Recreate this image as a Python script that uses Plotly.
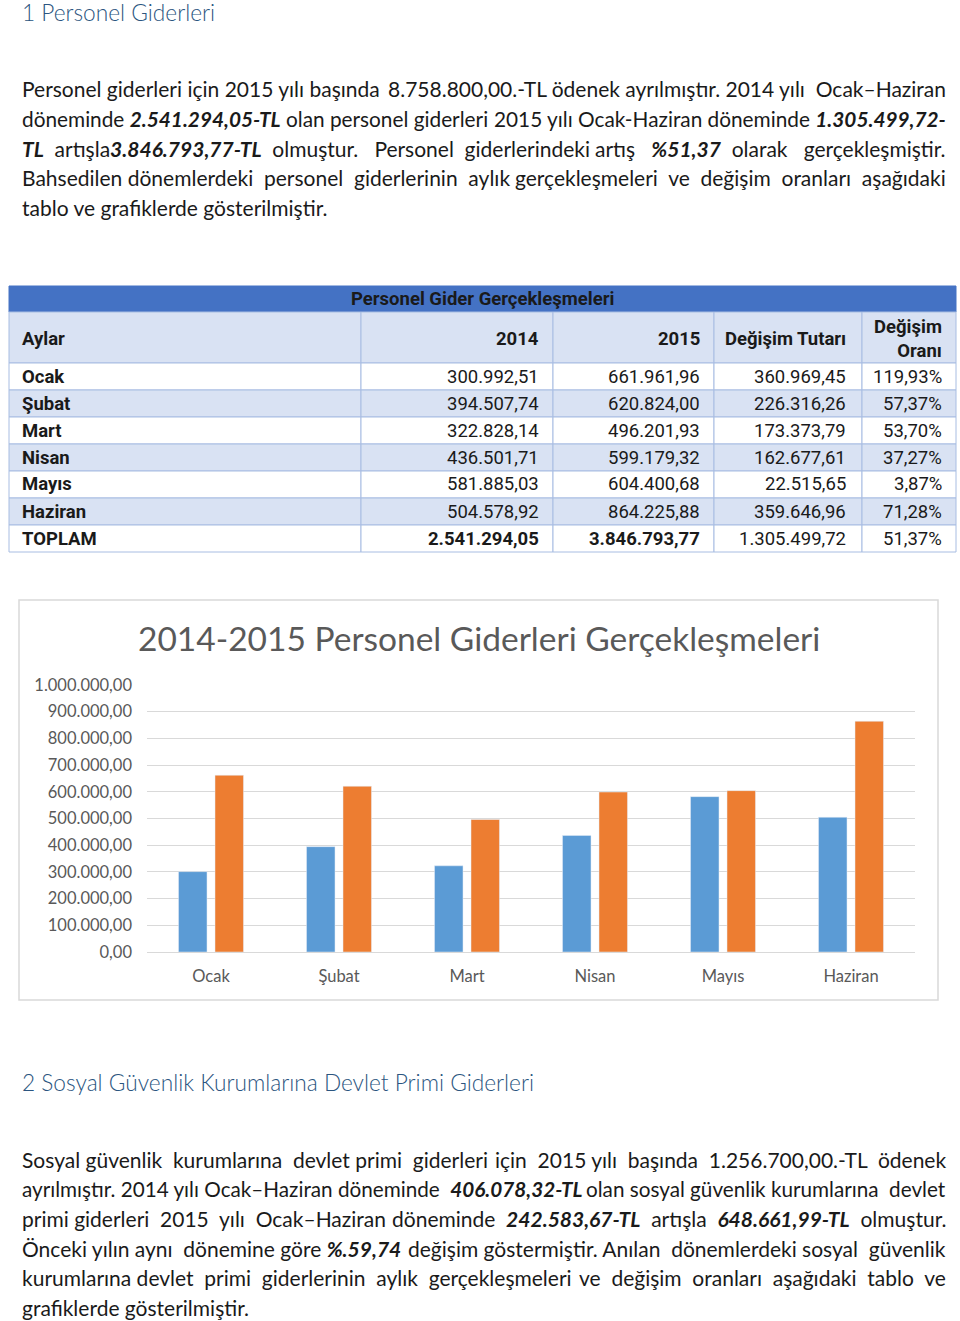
import plotly.graph_objects as go

W, H = 960, 1321


def px(x):
    return x / W


def py(y):
    return 1 - y / H


# ---------------- data ----------------
aylar = ["Ocak", "Şubat", "Mart", "Nisan", "Mayıs", "Haziran"]
tutar_2014 = [300992.51, 394507.74, 322828.14, 436501.71, 581885.03, 504578.92]
tutar_2015 = [661961.96, 620824.00, 496201.93, 599179.32, 604400.68, 864225.88]
degisim_tutari = [360969.45, 226316.26, 173373.79, 162677.61, 22515.65, 359646.96]
degisim_orani = [119.93, 57.37, 53.70, 37.27, 3.87, 71.28]
toplam_etiket = "TOPLAM"
toplam_2014 = 2541294.05
toplam_2015 = 3846793.77
toplam_tutar = 1305499.72
toplam_oran = 51.37
seri_adlari = ["2014", "2015"]
y_tickvals = [0, 100000, 200000, 300000, 400000, 500000, 600000, 700000, 800000, 900000, 1000000]
tablo_basligi = "Personel Gider Gerçekleşmeleri"
sutun_basliklari = ["Aylar", "2014", "2015", "Değişim Tutarı", "Değişim<br>Oranı"]
grafik_basligi = "2014-2015 Personel Giderleri Gerçekleşmeleri"
baslik_1 = "1 Personel Giderleri"
baslik_2 = "2 Sosyal Güvenlik Kurumlarına Devlet Primi Giderleri"


def BI(s):
    return "<b><i>" + s + "</i></b>"


# paragraph lines: (y, words, extra non-breaking spaces for justification; None = last line, font size)
paragraf_1 = [
    (88, ["Personel", "giderleri", "için", "2015", "yılı", "başında", "8.758.800,00.-TL", "ödenek",
          "ayrılmıştır.", "2014", "yılı", "Ocak–Haziran"], 2, 21),
    (118, ["döneminde", BI("2.541.294,05-TL"), "olan", "personel", "giderleri", "2015", "yılı",
           "Ocak-Haziran", "döneminde", BI("1.305.499,72-")], 0, 20.8),
    (148, [BI("TL"), "artışla" + BI("3.846.793,77-TL"), "olmuştur.", "Personel", "giderlerindeki",
           "artış", BI("%51,37"), "olarak", "gerçekleşmiştir."], 11, 21),
    (178, ["Bahsedilen", "dönemlerdeki", "personel", "giderlerinin", "aylık", "gerçekleşmeleri", "ve",
           "değişim", "oranları", "aşağıdaki"], 8, 21),
    (207, ["tablo", "ve", "grafiklerde", "gösterilmiştir."], None, 21),
]
paragraf_2 = [
    (1159, ["Sosyal", "güvenlik", "kurumlarına", "devlet", "primi", "giderleri", "için", "2015", "yılı",
            "başında", "1.256.700,00.-TL", "ödenek"], 8, 21),
    (1189, ["ayrılmıştır.", "2014", "yılı", "Ocak–Haziran", "döneminde", BI("406.078,32-TL"), "olan",
            "sosyal", "güvenlik", "kurumlarına", "devlet"], 2, 20.7),
    (1218, ["primi", "giderleri", "2015", "yılı", "Ocak–Haziran", "döneminde", BI("242.583,67-TL"),
            "artışla", BI("648.661,99-TL"), "olmuştur."], 7, 21),
    (1248, ["Önceki", "yılın", "aynı", "dönemine", "göre", BI("%.59,74"), "değişim", "göstermiştir.",
            "Anılan", "dönemlerdeki", "sosyal", "güvenlik"], 4, 21),
    (1277, ["kurumlarına", "devlet", "primi", "giderlerinin", "aylık", "gerçekleşmeleri", "ve", "değişim",
            "oranları", "aşağıdaki", "tablo", "ve"], 9, 21),
    (1307, ["grafiklerde", "gösterilmiştir."], None, 21),
]


def tr_num(v):
    s = f"{v:,.2f}"
    return s.replace(",", "X").replace(".", ",").replace("X", ".")


def tr_pct(v):
    return f"{v:.2f}".replace(".", ",") + "%"


FONT = "Lato, 'Open Sans', sans-serif"
TFONT = "Roboto, Lato, sans-serif"
TEXT = "#1a1a1a"
HEAD = "#2B5580"
NB = "\u00a0"
annotations = []
shapes = []


def text(x, y, s, size, anchor="left", color=TEXT, weight=None, family=FONT):
    f = dict(family=family, size=size, color=color)
    if weight is not None:
        f["weight"] = weight
    annotations.append(dict(x=px(x), y=py(y), xref="paper", yref="paper", text=s,
                            showarrow=False, xanchor=anchor, yanchor="middle", font=f))


# headings
text(20, 12, baslik_1, 22.7, color=HEAD, weight=300)
text(20, 1082, baslik_2, 22.7, color=HEAD, weight=300)

# paragraphs (justified lines: left half on left margin, right half on right margin)
for para in (paragraf_1, paragraf_2):
    for y, words, extra, size in para:
        if extra is None:
            text(20, y, " ".join(words), size)
            continue
        g = len(words) - 1
        pads = [(extra * (i + 1)) // g - (extra * i) // g for i in range(g)]
        mid = (len(words) + 1) // 2
        left = words[0]
        for i in range(1, mid):
            left += " " + NB * pads[i - 1] + words[i]
        right = words[mid]
        for i in range(mid + 1, len(words)):
            right += " " + NB * pads[i - 1] + words[i]
        text(20, y, left, size)
        text(948, y, right, size, anchor="right")

# ---------------- table ----------------
col_edges = [9, 361, 553, 714, 862, 956]
BORDER = "#A8BDE2"
LIGHT = "#D9E2F3"


def rect(x0, y0, x1, y1, fill, line=BORDER, width=1, layer="above"):
    shapes.append(dict(type="rect", xref="paper", yref="paper", x0=px(x0), x1=px(x1),
                       y0=py(y1), y1=py(y0), fillcolor=fill,
                       line=dict(color=line, width=width), layer=layer))


TS = 18.5
rect(9, 286, 956, 312, "#4472C4", line="#4472C4")
text(482, 299, "<b>" + tablo_basligi + "</b>", TS, anchor="center", family=TFONT)
for i in range(5):
    rect(col_edges[i], 312, col_edges[i + 1], 363, LIGHT)
text(20, 339, "<b>" + sutun_basliklari[0] + "</b>", TS, family=TFONT)
text(541, 339, "<b>" + sutun_basliklari[1] + "</b>", TS, anchor="right", family=TFONT)
text(702, 339, "<b>" + sutun_basliklari[2] + "</b>", TS, anchor="right", family=TFONT)
text(848, 339, "<b>" + sutun_basliklari[3] + "</b>", TS, anchor="right", family=TFONT)
annotations.append(dict(x=px(944), y=py(339), xref="paper", yref="paper",
                        text="<b>" + sutun_basliklari[4] + "</b>", showarrow=False,
                        xanchor="right", yanchor="middle", align="right",
                        font=dict(family=TFONT, size=TS, color=TEXT)))

row_h = 27
rows = []
for i in range(len(aylar)):
    rows.append(["<b>" + aylar[i] + "</b>", tr_num(tutar_2014[i]), tr_num(tutar_2015[i]),
                 tr_num(degisim_tutari[i]), tr_pct(degisim_orani[i])])
rows.append(["<b>" + toplam_etiket + "</b>", "<b>" + tr_num(toplam_2014) + "</b>",
             "<b>" + tr_num(toplam_2015) + "</b>", tr_num(toplam_tutar), tr_pct(toplam_oran)])
right_x = [None, 541, 702, 848, 944]
for r, row in enumerate(rows):
    y0 = 363 + r * row_h
    fill = LIGHT if r % 2 == 1 else "white"
    for c in range(5):
        rect(col_edges[c], y0, col_edges[c + 1], y0 + row_h, fill)
    yc = y0 + row_h / 2
    text(20, yc, row[0], TS, family=TFONT)
    for c in range(1, 5):
        text(right_x[c], yc, row[c], TS, anchor="right", family=TFONT)

# ---------------- chart ----------------
rect(19, 600, 938, 1000, "rgba(0,0,0,0)", line="#D9D9D9", width=1.5, layer="below")
text(479, 638, grafik_basligi, 33.5, anchor="center", color="#595959")

fig = go.Figure()
fig.add_bar(x=aylar, y=tutar_2014, name=seri_adlari[0], marker_color="#5B9BD5")
fig.add_bar(x=aylar, y=tutar_2015, name=seri_adlari[1], marker_color="#ED7D31")

fig.update_layout(
    width=W, height=H, margin=dict(l=0, r=0, t=0, b=0, pad=0, autoexpand=False),
    paper_bgcolor="white", plot_bgcolor="rgba(0,0,0,0)",
    showlegend=False, barmode="group", bargap=0.43, bargroupgap=0.22,
    separators=",.",
    font=dict(family=FONT, color="#595959"),
    xaxis=dict(domain=[px(147), px(915)], showgrid=False, showline=False, zeroline=False,
               automargin=False,
               tickfont=dict(size=16.5, color="#595959"), ticks="", ticklabelstandoff=12),
    yaxis=dict(domain=[py(952), py(685)], range=[0, 1000000], tickvals=y_tickvals,
               automargin=False,
               tickformat=",.2f", showgrid=True, gridcolor="#D9D9D9", gridwidth=1,
               zeroline=True, zerolinecolor="#D9D9D9", zerolinewidth=1, showline=False,
               tickfont=dict(size=16.5, color="#595959"), ticks="", ticklabelstandoff=14),
    annotations=annotations, shapes=shapes,
)

fig.write_html(
    "out.html",
    config={"displayModeBar": False, "responsive": False},
    post_script=(
        "var d=document.getElementById('{plot_id}');"
        "d.style.position='absolute';d.style.left='0px';d.style.top='0px';"
        "document.body.style.margin='0';document.body.style.overflow='hidden';"
        "document.documentElement.style.overflow='hidden';"
    ),
)
